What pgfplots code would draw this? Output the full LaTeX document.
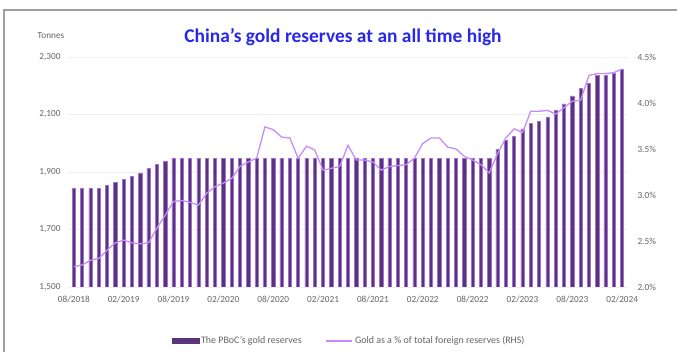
\documentclass[border=0pt]{standalone}
\usepackage{pgfplots}
\pgfplotsset{compat=1.18}
\usepackage{pgfplotstable}
\usepackage{fontspec}
\setmainfont{Carlito}
\definecolor{barc}{RGB}{90,52,122}
\definecolor{baredge}{RGB}{160,115,210}
\definecolor{linec}{RGB}{200,140,250}
\definecolor{titlec}{RGB}{40,40,230}
\definecolor{tickc}{RGB}{100,100,100}
\pgfplotstableread{
i t p
0 1842.6 2.22
1 1842.6 2.24
2 1842.6 2.29
3 1842.6 2.31
4 1852.5 2.40
5 1864.3 2.48
6 1874.3 2.51
7 1885.5 2.48
8 1896.7 2.47
9 1912.2 2.48
10 1926.2 2.64
11 1936.5 2.78
12 1948.3 2.93
13 1948.3 2.94
14 1948.3 2.92
15 1948.3 2.89
16 1948.3 3.02
17 1948.3 3.09
18 1948.3 3.13
19 1948.3 3.18
20 1948.3 3.31
21 1948.3 3.36
22 1948.3 3.40
23 1948.3 3.74
24 1948.3 3.71
25 1948.3 3.63
26 1948.3 3.62
27 1948.3 3.40
28 1948.3 3.53
29 1948.3 3.49
30 1948.3 3.27
31 1948.3 3.29
32 1948.3 3.31
33 1948.3 3.54
34 1948.3 3.38
35 1948.3 3.38
36 1948.3 3.36
37 1948.3 3.27
38 1948.3 3.31
39 1948.3 3.32
40 1948.3 3.33
41 1948.3 3.40
42 1948.3 3.56
43 1948.3 3.62
44 1948.3 3.62
45 1948.3 3.52
46 1948.3 3.50
47 1948.3 3.42
48 1948.3 3.38
49 1948.3 3.33
50 1948.3 3.24
51 1979.8 3.45
52 2010.0 3.62
53 2025.0 3.72
54 2050.0 3.68
55 2068.0 3.91
56 2076.0 3.91
57 2092.0 3.92
58 2113.0 3.88
59 2137.0 3.95
60 2165.0 4.02
61 2192.0 4.03
62 2208.0 4.30
63 2235.0 4.32
64 2235.0 4.32
65 2245.0 4.33
66 2257.0 4.37
}\data
\begin{document}
\begin{tikzpicture}
\pgfplotsset{
  common/.style={
    width=560bp, height=230bp, scale only axis,
    xmin=-0.7, xmax=66.7,
    axis line style={draw=none},
    major tick length=0pt,
    tick label style={font=\fontsize{9.3}{11}\selectfont, text=tickc},
    /pgf/number format/assume math mode=true,
  }
}
\useasboundingbox (-68bp,-65bp) rectangle (609bp,287bp);
\draw[gray!75, line width=1.3bp] (-64bp,-66bp) -- (-64bp,277bp) -- (610bp,277bp);
\begin{axis}[common,
  at={(0,0)}, anchor=south west,
  ymin=1500, ymax=2300,
  ytick={1500,1700,1900,2100,2300},
  ymajorgrids, grid style={gray!12, line width=0.8bp},
  yticklabel style={/pgf/number format/1000 sep={,}, xshift=-4bp},
  xtick={0,6,...,66},
  xticklabels={08/2018,02/2019,08/2019,02/2020,08/2020,02/2021,08/2021,02/2022,08/2022,02/2023,08/2023,02/2024},
  xticklabel style={yshift=-6bp},
]
\addplot[ybar, bar width=3.2bp, bar shift=0pt, fill=barc, draw=baredge, line width=0.6bp] table[x=i, y=t] {\data};
\end{axis}
\begin{axis}[common,
  at={(0,0)}, anchor=south west,
  axis y line*=right, axis x line=none,
  ymin=2.0, ymax=4.5,
  ytick={2.0,2.5,3.0,3.5,4.0,4.5},
  yticklabel={\pgfmathprintnumber[fixed,fixed zerofill,precision=1]{\tick}\%},
  yticklabel style={xshift=6bp},
  legend columns=2,
  legend style={at={(0.502,-0.235)}, anchor=center, draw=none, fill=none,
    font=\fontsize{10}{12}\selectfont\color{tickc},
    /tikz/every even column/.append style={column sep=22bp}},
]
\addlegendimage{legend image code/.code={\fill[barc] (0bp,-2.5bp) rectangle (27bp,2.5bp);}}
\addlegendentry{The PBoC's gold reserves}
\addplot[color=linec, line width=1.3bp, no markers, legend image code/.code={\draw[linec, line width=1.4bp] (0bp,0bp) -- (26bp,0bp);}] table[x=i, y=p] {\data};
\addlegendentry{Gold as a \% of total foreign reserves (RHS)}
\end{axis}
\node[font=\fontsize{19.5}{23}\selectfont\bfseries, text=titlec] at (275bp,250bp) {China’s gold reserves at an all time high};
\node[font=\fontsize{9.3}{11}\selectfont, text=tickc] at (-17bp,251bp) {Tonnes};
\end{tikzpicture}
\end{document}
